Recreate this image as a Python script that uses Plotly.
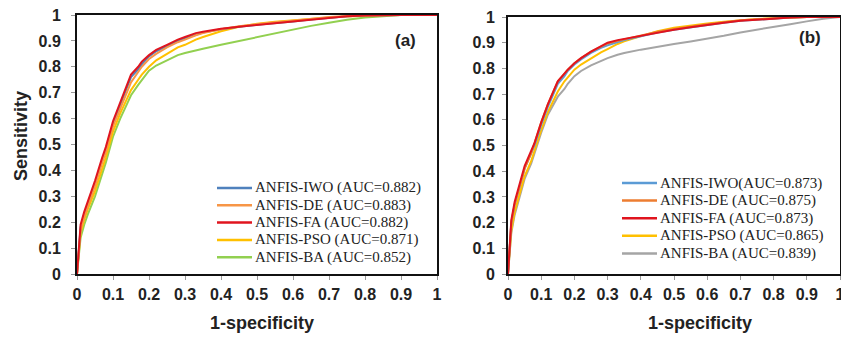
import plotly.graph_objects as go

# ---- data ----
tick_vals = [0, 0.1, 0.2, 0.3, 0.4, 0.5, 0.6, 0.7, 0.8, 0.9, 1]
tick_text = ["0", "0.1", "0.2", "0.3", "0.4", "0.5", "0.6", "0.7", "0.8", "0.9", "1"]

fpr_a = [0, 0.005, 0.01, 0.02, 0.03, 0.05, 0.07, 0.08, 0.1, 0.12, 0.14, 0.15, 0.17, 0.18, 0.2, 0.22, 0.25, 0.28, 0.3, 0.33, 0.35, 0.4, 0.45, 0.5, 0.55, 0.6, 0.65, 0.7, 0.75, 0.8, 0.85, 0.9, 1]
a_iwo = [0, 0.11, 0.18, 0.23, 0.27, 0.35, 0.44, 0.48, 0.58, 0.65, 0.72, 0.76, 0.79, 0.81, 0.84, 0.86, 0.88, 0.9, 0.91, 0.925, 0.932, 0.945, 0.955, 0.962, 0.968, 0.975, 0.983, 0.99, 0.995, 0.998, 1, 1, 1]
a_de = [0, 0.1, 0.17, 0.22, 0.26, 0.34, 0.43, 0.47, 0.57, 0.64, 0.71, 0.74, 0.78, 0.8, 0.83, 0.85, 0.875, 0.895, 0.905, 0.922, 0.93, 0.945, 0.957, 0.965, 0.972, 0.978, 0.985, 0.992, 0.996, 0.998, 1, 1, 1]
a_fa = [0, 0.12, 0.19, 0.24, 0.28, 0.36, 0.45, 0.49, 0.59, 0.66, 0.73, 0.77, 0.8, 0.82, 0.845, 0.865, 0.885, 0.905, 0.915, 0.93, 0.935, 0.947, 0.955, 0.962, 0.967, 0.974, 0.982, 0.99, 0.995, 0.998, 1, 1, 1]
a_pso = [0, 0.09, 0.16, 0.21, 0.25, 0.32, 0.41, 0.45, 0.55, 0.62, 0.68, 0.71, 0.75, 0.77, 0.8, 0.825, 0.85, 0.875, 0.885, 0.905, 0.915, 0.937, 0.955, 0.966, 0.974, 0.98, 0.986, 0.99, 0.994, 0.997, 1, 1, 1]
a_ba = [0, 0.08, 0.14, 0.19, 0.23, 0.3, 0.39, 0.43, 0.53, 0.6, 0.66, 0.69, 0.73, 0.75, 0.785, 0.805, 0.825, 0.845, 0.853, 0.865, 0.87, 0.885, 0.9, 0.915, 0.93, 0.945, 0.958, 0.97, 0.982, 0.99, 0.996, 1, 1]

fpr_b = [0, 0.005, 0.01, 0.02, 0.03, 0.05, 0.07, 0.08, 0.1, 0.12, 0.14, 0.15, 0.17, 0.18, 0.2, 0.22, 0.25, 0.28, 0.3, 0.33, 0.35, 0.4, 0.45, 0.5, 0.55, 0.6, 0.65, 0.7, 0.75, 0.8, 0.85, 0.9, 0.95, 1]
b_iwo = [0, 0.12, 0.2, 0.27, 0.32, 0.41, 0.47, 0.5, 0.58, 0.65, 0.71, 0.74, 0.77, 0.79, 0.815, 0.835, 0.86, 0.88, 0.89, 0.902, 0.91, 0.925, 0.94, 0.95, 0.96, 0.97, 0.978, 0.985, 0.99, 0.995, 0.998, 1, 1, 1]
b_de = [0, 0.12, 0.2, 0.27, 0.32, 0.41, 0.47, 0.51, 0.59, 0.66, 0.72, 0.75, 0.78, 0.795, 0.82, 0.84, 0.865, 0.885, 0.897, 0.907, 0.913, 0.928, 0.943, 0.953, 0.963, 0.972, 0.98, 0.987, 0.991, 0.995, 0.998, 1, 1, 1]
b_fa = [0, 0.13, 0.21, 0.28, 0.33, 0.42, 0.48, 0.51, 0.59, 0.66, 0.72, 0.75, 0.78, 0.795, 0.82, 0.84, 0.865, 0.885, 0.9, 0.91, 0.915, 0.927, 0.94, 0.95, 0.96, 0.97, 0.978, 0.985, 0.99, 0.995, 0.998, 1, 1, 1]
b_pso = [0, 0.1, 0.17, 0.24, 0.29, 0.38, 0.44, 0.48, 0.56, 0.63, 0.68, 0.71, 0.75, 0.765, 0.795, 0.815, 0.84, 0.862, 0.875, 0.895, 0.905, 0.925, 0.945, 0.958, 0.967, 0.975, 0.982, 0.988, 0.992, 0.995, 0.998, 1, 1, 1]
b_ba = [0, 0.09, 0.16, 0.23, 0.28, 0.37, 0.43, 0.47, 0.55, 0.62, 0.67, 0.69, 0.72, 0.74, 0.77, 0.79, 0.812, 0.83, 0.84, 0.853, 0.86, 0.873, 0.885, 0.895, 0.905, 0.915, 0.927, 0.94, 0.95, 0.96, 0.972, 0.983, 0.993, 1]

names_a = ["ANFIS-IWO (AUC=0.882)", "ANFIS-DE (AUC=0.883)", "ANFIS-FA (AUC=0.882)",
           "ANFIS-PSO (AUC=0.871)", "ANFIS-BA (AUC=0.852)"]
names_b = ["ANFIS-IWO(AUC=0.873)", "ANFIS-DE (AUC=0.875)", "ANFIS-FA (AUC=0.873)",
           "ANFIS-PSO (AUC=0.865)", "ANFIS-BA (AUC=0.839)"]
colors_a = ["#4F81BD", "#F79646", "#E0141E", "#FFC000", "#92D050"]
colors_b = ["#5B9BD5", "#ED7D31", "#E0141E", "#FFC000", "#A5A5A5"]

series_a = [a_iwo, a_de, a_fa, a_pso, a_ba]
series_b = [b_iwo, b_de, b_fa, b_pso, b_ba]

W, H = 841, 338

def px_x(p):
    return p / W

def px_y(p):
    return (H - p) / H

fig = go.Figure()

order = [4, 3, 0, 1, 2]
for i in order:
    fig.add_trace(go.Scatter(x=fpr_a, y=series_a[i], mode="lines", name=names_a[i],
                             line=dict(color=colors_a[i], width=2), xaxis="x", yaxis="y",
                             showlegend=False))
for i in order:
    fig.add_trace(go.Scatter(x=fpr_b, y=series_b[i], mode="lines", name=names_b[i],
                             line=dict(color=colors_b[i], width=2), xaxis="x2", yaxis="y2",
                             showlegend=False))

sans = "Liberation Sans, Arial"
tickfont = dict(family=sans, size=16, color="#222", weight="bold")
titlefont = dict(family=sans, size=18, color="#222", weight="bold")

def axis(domain, anchor, standoff):
    return dict(domain=domain, anchor=anchor, range=[0, 1], tickvals=tick_vals, ticktext=tick_text,
                showgrid=False, zeroline=False, showline=True, mirror=True, linecolor="#111",
                linewidth=2, ticks="outside", ticklen=4, tickcolor="#999", tickfont=tickfont,
                automargin=False, ticklabelstandoff=standoff, ticklabeloverflow="allow")

def label(text, xp, yp, font, angle=0, xanchor="center"):
    return dict(text=text, x=px_x(xp), y=px_y(yp), xref="paper", yref="paper", showarrow=False,
                xanchor=xanchor, yanchor="middle", textangle=angle, font=font)

panel_font = dict(family=sans, size=17, color="#222", weight="bold")
annotations = [
    label("(a)", 405, 40, panel_font),
    label("(b)", 810, 37, panel_font),
    label("Sensitivity", 21, 136, titlefont, angle=-90),
    label("1-specificity", 262, 323, titlefont),
    label("1-specificity", 700, 323, titlefont),
]
shapes = []

legfont = dict(family="Liberation Serif, Times New Roman", size=15, color="#222")
legends = [
    (names_a, colors_a, 217, 252, 188, 17.3),
    (names_b, colors_b, 622, 657, 183, 17.6),
]
for names, colors, lx0, lx1, ytop, step in legends:
    for k, (nm, col) in enumerate(zip(names, colors)):
        yc = ytop + k * step
        shapes.append(dict(type="line", xref="paper", yref="paper", x0=px_x(lx0), x1=px_x(lx1),
                           y0=px_y(yc), y1=px_y(yc), line=dict(color=col, width=2.5)))
        annotations.append(label(nm, lx1 + 1, yc, legfont, xanchor="left"))

fig.update_layout(
    width=W, height=H,
    margin=dict(l=0, r=0, t=0, b=0),
    paper_bgcolor="white", plot_bgcolor="white",
    xaxis=axis([px_x(77), px_x(437)], "y", 1),
    yaxis=axis([px_y(274), px_y(15)], "x", 7),
    xaxis2=axis([px_x(508), px_x(840)], "y2", 1),
    yaxis2=axis([px_y(274), px_y(17)], "x2", 4),
    annotations=annotations,
    shapes=shapes,
    showlegend=False,
)

fig.write_html("out.html", config={"displayModeBar": False},
               post_script="document.body.style.margin='0px';document.body.style.overflow='hidden';")
